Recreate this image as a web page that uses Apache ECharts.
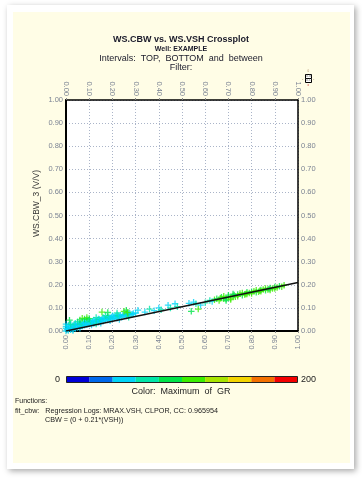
<!DOCTYPE html>
<html>
<head>
<meta charset="utf-8">
<script src="https://cdn.jsdelivr.net/npm/echarts@6/dist/echarts.min.js"></script>
<style>html,body{margin:0;padding:0;background:#fff;}#c{width:362px;height:478px;}</style>
</head>
<body>
<div id="c"></div>
<script>
// ---- data ----
// crossplot points: VSH (x), CBW (y), GR (colour)
var vshValues = [
 0.00,0.01,0.01,0.02,0.02,0.00,0.00,0.01,0.03,0.03,0.04,0.04,0.05,0.05,0.06,0.06,0.07,0.07,0.08,0.08,
 0.09,0.09,0.10,0.10,0.11,0.12,0.12,0.13,0.14,0.14,0.15,0.16,0.16,0.17,0.18,0.18,0.19,0.20,0.20,0.21,
 0.22,0.22,0.23,0.24,0.25,0.26,0.27,0.28,0.29,0.30,
 0.005,0.015,0.025,0.035,0.045,0.055,0.065,0.075,0.085,0.095,0.105,0.115,0.125,0.135,0.145,0.155,0.165,0.175,0.185,0.195,
 0.205,0.215,0.225,0.235,0.245,0.255,0.265,0.275,0.285,0.00,0.02,0.04,0.03,0.06,0.11,0.13,0.15,0.19,0.23,0.27,
 0.02,0.05,0.09,0.13,0.17,0.22,0.31,0.34,0.36,0.38,0.40,0.41,0.44,0.45,0.47,0.48,0.53,0.55,0.56,0.58,0.62,0.63,0.60,
 0.015,0.06,0.07,0.08,0.09,0.10,0.155,0.18,0.25,0.26,0.265,0.54,0.57,
 0.64,0.65,0.66,0.67,0.68,0.68,0.69,0.70,0.70,0.71,0.72,0.72,0.73,0.74,0.74,0.75,0.76,0.76,0.77,0.78,
 0.78,0.79,0.80,0.80,0.81,0.82,0.82,0.83,0.84,0.84,0.85,0.86,0.86,0.87,0.88,0.88,0.89,0.90,0.90,0.91,
 0.92,0.93,0.94,0.69,0.71,0.665,0.725,0.775,0.835,0.875
];
var cbwValues = [
 0.000,0.002,0.010,0.005,0.015,0.012,0.020,0.025,0.008,0.020,0.012,0.025,0.015,0.030,0.020,0.032,0.022,0.035,0.025,0.038,
 0.028,0.042,0.030,0.045,0.035,0.032,0.048,0.040,0.038,0.052,0.045,0.042,0.058,0.050,0.048,0.062,0.055,0.052,0.066,0.058,
 0.055,0.070,0.062,0.060,0.068,0.065,0.072,0.070,0.076,0.078,
 0.006,0.018,0.012,0.028,0.020,0.026,0.030,0.032,0.034,0.036,0.040,0.042,0.044,0.048,0.050,0.052,0.054,0.056,0.058,0.060,
 0.062,0.064,0.066,0.068,0.070,0.072,0.074,0.076,0.072,0.030,0.028,0.034,0.002,0.012,0.026,0.030,0.034,0.044,0.050,0.060,
 0.030,0.040,0.050,0.058,0.066,0.078,0.090,0.082,0.095,0.088,0.100,0.092,0.112,0.100,0.118,0.105,0.120,0.125,0.118,0.112,0.132,0.128,0.122,
 0.047,0.048,0.055,0.052,0.058,0.054,0.082,0.080,0.085,0.090,0.080,0.085,0.095,
 0.135,0.140,0.132,0.146,0.140,0.150,0.138,0.148,0.155,0.142,0.152,0.160,0.148,0.158,0.150,0.162,0.155,0.165,0.158,0.168,
 0.160,0.165,0.170,0.162,0.172,0.168,0.176,0.170,0.178,0.172,0.180,0.176,0.184,0.180,0.186,0.178,0.184,0.190,0.184,0.188,
 0.194,0.192,0.198,0.132,0.136,0.142,0.156,0.160,0.174,0.182
];
var grValues = [
 50,50,50,50,50,50,50,50,50,50,50,50,50,50,50,50,50,50,50,50,
 50,50,50,50,50,50,50,50,50,50,50,50,50,50,50,50,50,50,50,50,
 50,50,50,50,50,50,50,50,50,50,
 50,50,50,70,50,50,70,50,50,50,70,50,50,50,70,50,50,50,70,50,
 50,50,70,50,50,50,70,50,50,50,50,50,50,50,50,70,50,50,50,70,
 70,70,70,70,70,70,50,50,70,50,50,70,50,70,50,70,50,50,70,50,70,50,70,
 90,90,110,90,110,90,110,90,110,90,110,90,110,
 110,90,110,90,110,110,90,110,90,110,110,90,110,90,110,110,90,110,110,90,
 110,110,90,110,110,90,110,110,90,110,110,90,110,110,90,110,110,90,110,110,
 90,110,110,90,110,110,90,110,110,90
];
// regression line CBW = 0 + 0.21*VSH
var fitX = [0, 1];
var fitY = [0, 0.21];
// colour scale (GR)
var colorBreaks = [0,20,40,60,80,100,120,140,160,180,200];
var colorScale = ['#0000d8','#0068ec','#00d4f8','#00e6a8','#00e448','#3cee00','#a8e400','#f4d400','#f47000','#f40000'];
var colorEnds = ['0', '200'];

var pts = vshValues.map(function(v,i){ return [v, cbwValues[i], grValues[i]]; });
var fitLine = fitX.map(function(v,i){ return [v, fitY[i]]; });
var pieces = colorScale.map(function(c,i){ return {min: colorBreaks[i], max: colorBreaks[i+1], color: c}; });

var FONT = 'Liberation Sans, Arial, sans-serif';
var labelColor = '#7c8494';
var gridColor = '#aab4c8';
function fmt(v){ return v.toFixed(2); }

var chart = echarts.init(document.getElementById('c'));
var plus = 'path://M4,0H6V4H10V6H6V10H4V6H0V4H4Z';

function xAx(pos, main){
  return {
    type:'value', position:pos, min:0, max:1, interval:0.1,
    axisLine:{show:true, onZero:false, lineStyle:{color:'#000', width: main?2:1.5}},
    axisTick:{show:true, length:2, lineStyle:{color:'#888'}},
    axisLabel:{rotate:90, fontSize:7.5, color:labelColor, fontFamily:FONT, margin:4, formatter:fmt},
    splitLine:{show: main, lineStyle:{color:gridColor, type:[1,2], width:1}}
  };
}
function yAx(pos, main){
  return {
    type:'value', position:pos, min:0, max:1, interval:0.1,
    axisLine:{show:true, onZero:false, lineStyle:{color:'#000', width: main?2:1.5}},
    axisTick:{show:false},
    axisLabel:{fontSize:7.5, color:labelColor, fontFamily:FONT, margin:3, formatter:fmt},
    splitLine:{show: main, lineStyle:{color:gridColor, type:[1,2], width:1}}
  };
}

chart.setOption({
  backgroundColor:'#ffffff',
  animation:false,
  title:[
    {text:'WS.CBW vs. WS.VSH Crossplot', left:'center', top:30, textStyle:{fontSize:9, fontWeight:'bold', color:'#1a1a2a', fontFamily:FONT}},
    {text:'Well: EXAMPLE', left:'center', top:40.5, textStyle:{fontSize:7, fontWeight:'bold', color:'#1a1a2a', fontFamily:FONT}},
    {text:'Intervals:  TOP,  BOTTOM  and  between', left:'center', top:49, textStyle:{fontSize:9, fontWeight:'normal', color:'#1a1a2a', fontFamily:FONT}},
    {text:'Filter:', left:'center', top:58, textStyle:{fontSize:9, fontWeight:'normal', color:'#1a1a2a', fontFamily:FONT}}
  ],
  graphic:[
    {type:'rect', z:-10, shape:{x:7,y:5,width:347,height:464}, style:{fill:'#ffffff', shadowBlur:6, shadowColor:'rgba(0,0,0,0.35)', shadowOffsetX:2, shadowOffsetY:2}},
    {type:'rect', z:-9, shape:{x:13,y:12,width:337,height:451}, style:{fill:'#fffde6'}},
    {type:'rect', z:-8, shape:{x:66,y:100,width:232,height:231}, style:{fill:'#ffffff'}},
    {type:'text', left:32, top:170, rotation:Math.PI/2, style:{text:'WS.CBW_3 (V/V)', fill:'#333', font:'8.5px '+FONT}},
    {type:'text', left:'center', top:387, style:{text:'Color:  Maximum  of  GR', fill:'#222', font:'9px '+FONT}},
    {type:'rect', shape:{x:66.5,y:376.5,width:231,height:6}, style:{fill:'none', stroke:'#222', lineWidth:1}, z:100},
    {type:'text', right:302, top:375, style:{text:colorEnds[0], fill:'#222', font:'9px '+FONT}},
    {type:'text', left:301, top:375, style:{text:colorEnds[1], fill:'#222', font:'9px '+FONT}},
    {type:'text', left:15, top:398, style:{text:'Functions:', fill:'#222', font:'7px '+FONT}},
    {type:'text', left:15, top:408, style:{text:'fit_cbw:   Regression Logs: MRAX.VSH, CLPOR, CC: 0.965954', fill:'#222', font:'7.2px '+FONT}},
    {type:'text', left:45, top:417, style:{text:'CBW = (0 + 0.21*(VSH))', fill:'#222', font:'7.2px '+FONT}},
    {type:'rect', shape:{x:305.5,y:74.5,width:6,height:4}, style:{fill:'#fff', stroke:'#000', lineWidth:1}},
    {type:'rect', shape:{x:305.5,y:78.5,width:6,height:4}, style:{fill:'#fff', stroke:'#000', lineWidth:1}},
    {type:'text', left:306, top:74.5, style:{text:'3.76', fill:'#444', font:'3px '+FONT}},
    {type:'text', left:306, top:78.5, style:{text:'3.77', fill:'#444', font:'3px '+FONT}},
    {type:'text', left:307.5, top:70, style:{text:'0', fill:'#a86', font:'3px '+FONT}},
    {type:'text', left:307.5, top:84, style:{text:'o', fill:'#c44', font:'3px '+FONT}},
    {type:'text', left:302, top:77, style:{text:'-', fill:'#a86', font:'4px '+FONT}},
    {type:'text', left:313, top:77, style:{text:'-', fill:'#a86', font:'4px '+FONT}}
  ],
  grid:{left:66, top:100, width:232, height:231, containLabel:false},
  xAxis:[xAx('bottom', true), xAx('top', false)],
  yAxis:[yAx('left', true), yAx('right', false)],
  visualMap:{
    type:'piecewise', seriesIndex:0, dimension:2, orient:'horizontal',
    pieces:pieces, itemWidth:23.1, itemHeight:6, itemGap:0, itemSymbol:'rect',
    showLabel:false, selectedMode:false, hoverLink:false,
    left:66.5, top:376.5, padding:0
  },
  series:[
    {type:'scatter', xAxisIndex:0, yAxisIndex:0, data:pts, symbol:plus, symbolSize:6.5, z:3},
    {type:'line', xAxisIndex:0, yAxisIndex:0, data:fitLine, symbol:'none', lineStyle:{color:'#111', width:1.3}, z:4}
  ]
});
</script>
</body>
</html>
